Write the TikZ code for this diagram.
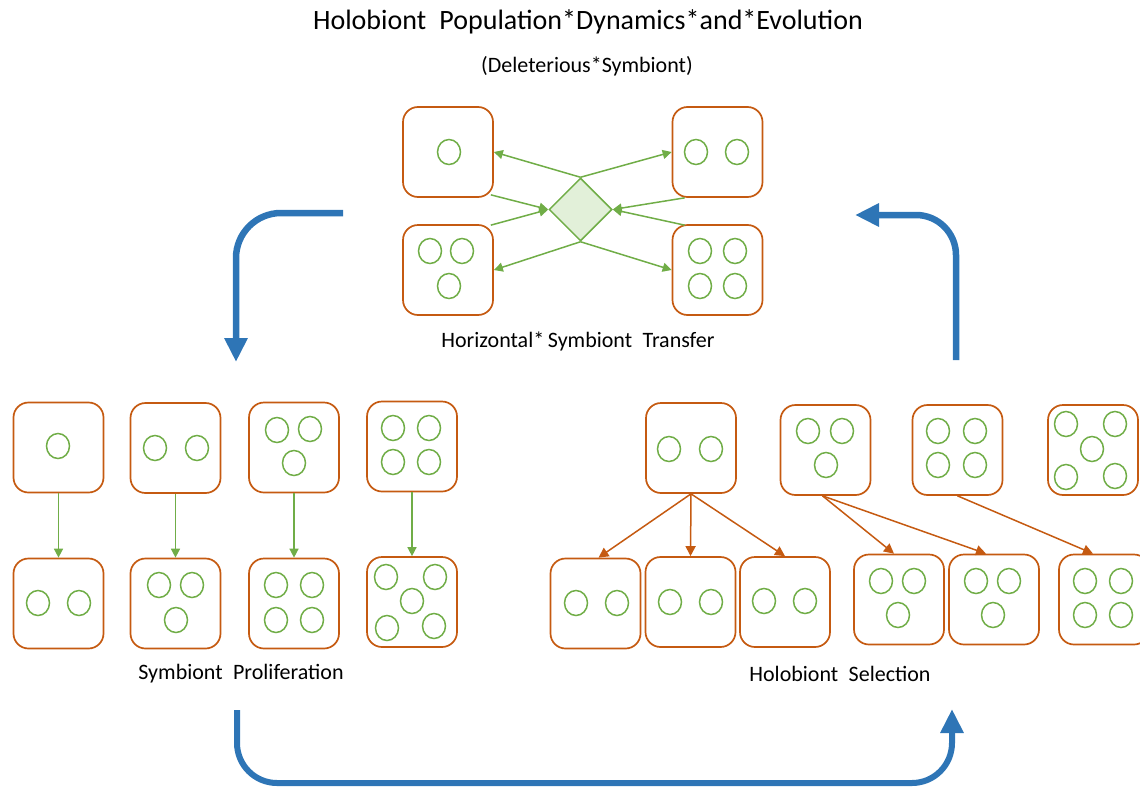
\documentclass[tikz,border=0pt]{standalone}
\usepackage{fontspec}
\setmainfont{Carlito}
\usetikzlibrary{arrows.meta,shapes.geometric}
\definecolor{hbor}{HTML}{C55A11}
\definecolor{sgreen}{HTML}{70AD47}
\definecolor{dfill}{HTML}{E2F0D9}
\definecolor{cblue}{HTML}{2E75B6}
\newcommand\Sym[2]{\draw[sym] (#1,#2) ellipse [x radius=11.5,y radius=12.5];}
\begin{document}
\begin{tikzpicture}[x=1pt,y=-1pt,
  holo/.style={draw=hbor,line width=1.7pt,rounded corners=15pt,minimum width=90pt,minimum height=90pt,inner sep=0pt},
  sym/.style={draw=sgreen,line width=1.5pt},
  garrow/.style={draw=sgreen,line width=1.5pt,-{Triangle[length=9pt,width=9pt]},fill=sgreen},
  oarrow/.style={draw=hbor,line width=1.5pt,-{Triangle[length=10pt,width=10pt]},fill=hbor},
  barrow/.style={draw=cblue,line width=6.5pt,-{Triangle[length=24pt,width=22pt]}},
  lbl/.style={font=\fontsize{22}{26}\selectfont,inner sep=0pt}
]
\useasboundingbox (0,0) rectangle (1140,787);
\clip (0,0) rectangle (1140,787);

% titles
\node[inner sep=0pt,font=\fontsize{28}{32}\selectfont] (title) at (588,22) {Holobiont\hspace{0.25em} Population*Dynamics*and*Evolution};
\node[lbl] (subtitle) at (587,66) {(Deleterious*Symbiont)};

% top section
\node[holo] (tl) at (448,152) {};
\node[holo] (tr) at (717.5,152) {};
\node[holo] (bl) at (448,270) {};
\node[holo] (br) at (717.5,270) {};
\node[diamond,draw=sgreen,fill=dfill,line width=1.5pt,minimum width=63pt,minimum height=63pt,inner sep=0pt] (dia) at (580.5,209.5) {};
\Sym{449}{152}
\Sym{696}{152}\Sym{737}{152}
\Sym{430}{251}\Sym{462}{251}\Sym{449}{286}
\Sym{700}{251}\Sym{735}{251}\Sym{700}{286}\Sym{735}{286}

\draw[garrow] (dia.north) -- (tl.east);
\draw[garrow] (dia.north) -- (tr.west);
\draw[garrow] ([xshift=-3pt,yshift=3pt]tl.south east) -- (dia.west);
\draw[garrow] ([xshift=-3pt,yshift=-1pt]bl.north east) -- (dia.west);
\draw[garrow] ([xshift=13pt]tr.south west) -- (dia.east);
\draw[garrow] ([xshift=13pt,yshift=-1pt]br.north west) -- (dia.east);
\draw[garrow] (dia.south) -- (bl.east);
\draw[garrow] (dia.south) -- (br.west);

\node[lbl] (hst) at (578,341) {Horizontal*\,Symbiont\hspace{0.25em} Transfer};

% symbiont proliferation
\node[holo] (b1) at (58.5,447.5) {};
\node[holo] (b2) at (175.5,448) {};
\node[holo] (b3) at (294,447.5) {};
\node[holo] (b4) at (412,446.5) {};
\node[holo] (c1) at (58.5,603.5) {};
\node[holo] (c2) at (175.5,603.5) {};
\node[holo] (c3) at (294,603.5) {};
\node[holo] (c4) at (412,602) {};
\Sym{58}{446}
\Sym{155}{448}\Sym{197}{448}
\Sym{277}{430}\Sym{310}{429}\Sym{294}{463}
\Sym{393}{428}\Sym{429}{428}\Sym{393}{462}\Sym{429}{462}
\Sym{38}{603}\Sym{79}{603}
\Sym{159}{585}\Sym{192}{585}\Sym{176}{620}
\Sym{276}{585}\Sym{312}{585}\Sym{276}{620}\Sym{312}{620}
\Sym{386}{577}\Sym{435}{577}\Sym{412}{601}\Sym{387}{628}\Sym{434}{626}
\draw[garrow] (b1.south) -- (c1.north);
\draw[garrow] (b2.south) -- (c2.north);
\draw[garrow] (b3.south) -- (c3.north);
\draw[garrow] (b4.south) -- (c4.north);
\node[lbl] (sp) at (241,674) {Symbiont\hspace{0.25em} Proliferation};

% holobiont selection
\node[holo] (d1) at (691,448) {};
\node[holo] (d2) at (825.5,450) {};
\node[holo] (d3) at (957.5,450) {};
\node[holo] (d4) at (1093,450) {};
\node[holo] (e1) at (595.5,603.5) {};
\node[holo] (e2) at (690.5,602) {};
\node[holo] (e3) at (785,602) {};
\node[holo] (f1) at (899,599.5) {};
\node[holo] (f2) at (994,599.5) {};
\node[holo] (f3) at (1104,599.5) {};
\Sym{669}{449}\Sym{711}{449}
\Sym{808}{431}\Sym{842}{431}\Sym{826}{465}
\Sym{938}{431}\Sym{975}{431}\Sym{938}{465}\Sym{975}{465}
\Sym{1066}{424}\Sym{1115}{424}\Sym{1092}{449}\Sym{1066}{477}\Sym{1115}{476}
\Sym{576}{603}\Sym{617}{603}
\Sym{670}{602}\Sym{711}{602}
\Sym{764}{601}\Sym{805}{601}
\Sym{881}{581}\Sym{914}{581}\Sym{898}{615}
\Sym{976}{581}\Sym{1009}{581}\Sym{993}{615}
\Sym{1085}{581}\Sym{1121}{581}\Sym{1085}{615}\Sym{1121}{615}
\draw[oarrow] (d1.south) -- ([xshift=3pt]e1.north);
\draw[oarrow] (d1.south) -- (e2.north);
\draw[oarrow] (d1.south) -- (e3.north);
\draw[oarrow] ([xshift=-3pt]d2.south) -- ([xshift=-5pt]f1.north);
\draw[oarrow] ([xshift=-3pt]d2.south) -- ([xshift=-8pt]f2.north);
\draw[oarrow] (d3.south) -- ([xshift=-11pt]f3.north);
\node[lbl] (hs) at (840,674) {Holobiont\hspace{0.25em} Selection};

% blue cycle arrows
\coordinate (a1s) at (343,213);
\coordinate (a1e) at (236,362);
\draw[barrow,rounded corners=45pt] (a1s) -- (236,213) -- (a1e);
\coordinate (a2s) at (956,360);
\coordinate (a2e) at (855,215);
\draw[barrow,rounded corners=40pt] (a2s) -- (956,215) -- (a2e);
\coordinate (a3s) at (237,710);
\coordinate (a3e) at (952,709);
\draw[barrow,line width=6pt,rounded corners=40pt] (a3s) -- (237,783) -- (952,783) -- (a3e);
\end{tikzpicture}
\end{document}
